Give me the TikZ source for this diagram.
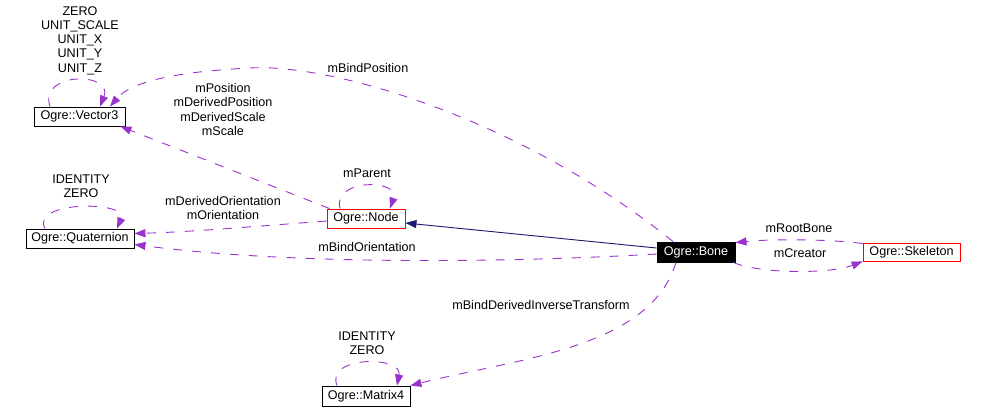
\documentclass[tikz,border=0pt]{standalone}
\usepackage{fontspec}
\setmainfont{Liberation Sans}
\usetikzlibrary{arrows.meta}
\definecolor{dep}{HTML}{9A32CD}
\definecolor{inh}{HTML}{191970}
\tikzset{
  cls/.style={draw=black, line width=0.9pt, inner sep=0pt, fill=white, text=black},
  redcls/.style={cls, draw=red},
  curcls/.style={cls, fill=black, text=white},
  lbl/.style={align=center, inner sep=0pt},
  usage/.style={draw=dep, line width=0.9pt, dash pattern=on 9pt off 10pt, -{Triangle[length=11pt,width=8pt]}, dep},
  inherit/.style={draw=inh, line width=0.9pt, -{Triangle[length=11pt,width=8pt]}, inh},
}
\begin{document}
\begin{tikzpicture}[x=1pt,y=1pt,font=\fontsize{12.6}{14.3}\selectfont]
\useasboundingbox (0,0) rectangle (985,408);
\fill[white] (0,0) rectangle (985,408);
% classes
\node[cls, minimum width=91pt, minimum height=19pt] (V) at (79.5,291.5) {Ogre::Vector3};
\node[cls, minimum width=108pt, minimum height=19pt] (Q) at (80,169.5) {Ogre::Quaternion};
\node[redcls, minimum width=78pt, minimum height=19pt] (N) at (366,189.5) {Ogre::Node};
\node[curcls, minimum width=78pt, minimum height=20pt] (B) at (696,156) {Ogre::Bone};
\node[redcls, minimum width=97pt, minimum height=18pt] (S) at (911.5,156) {Ogre::Skeleton};
\node[cls, minimum width=88pt, minimum height=20pt] (M) at (366,12) {Ogre::Matrix4};
% labels
\node[lbl] (lV) at (80,367.5) {ZERO\\UNIT\_SCALE\\UNIT\_X\\UNIT\_Y\\UNIT\_Z};
\node[lbl] (lPos) at (223,298.5) {mPosition\\mDerivedPosition\\mDerivedScale\\mScale};
\node[lbl] (lBP) at (368,340) {mBindPosition};
\node[lbl] (lPar) at (367,235) {mParent};
\node[lbl] (lQ) at (81,222) {IDENTITY\\ZERO};
\node[lbl] (lOr) at (223,200) {mDerivedOrientation\\mOrientation};
\node[lbl] (lBO) at (367,161) {mBindOrientation};
\node[lbl] (lRB) at (799,180) {mRootBone};
\node[lbl] (lCr) at (800,155) {mCreator};
\node[lbl] (lBD) at (541,103) {mBindDerivedInverseTransform};
\node[lbl] (lM) at (367,64.5) {IDENTITY\\ZERO};
% connectors
\draw[usage] ([xshift=-29.5pt]V.north) .. controls +(-12,35) and +(14,35) .. ([xshift=20.5pt]V.north);
\draw[usage] ([xshift=-23pt]B.north) .. controls (520,290) and (330,345) .. (250,340) .. controls (170,336) and (130,325) .. ([xshift=30.5pt]V.north);
\draw[usage] ([xshift=3pt]N.north west) -- ([xshift=-5pt]V.south east);
\draw[usage] ([xshift=-26pt]N.north) .. controls +(-8,30) and +(10,30) .. ([xshift=24pt]N.north);
\draw[usage] ([xshift=-35pt]Q.north) .. controls +(-15,28) and +(12,28) .. ([xshift=37pt]Q.north);
\draw[usage] ([yshift=-2.5pt]N.west) .. controls (260,182) and (190,176) .. ([yshift=5pt]Q.east);
\draw[usage] ([yshift=-2pt]B.west) .. controls (520,146) and (300,142) .. ([yshift=-6pt]Q.east);
\draw[inherit] ([yshift=4pt]B.west) -- ([yshift=-4.5pt]N.east);
\draw[usage] ([yshift=-1pt]S.north west) .. controls (830,169) and (770,169) .. ([yshift=-1pt]B.north east);
\draw[usage] ([xshift=-2pt]B.south east) .. controls (760,134) and (830,134) .. (S.south west);
\draw[usage] ([xshift=-20pt]B.south) .. controls (650,60) and (520,50) .. (M.north east);
\draw[usage] ([xshift=-29pt]M.north) .. controls +(-12,30) and +(6,30) .. ([xshift=31pt]M.north);
\end{tikzpicture}
\end{document}
